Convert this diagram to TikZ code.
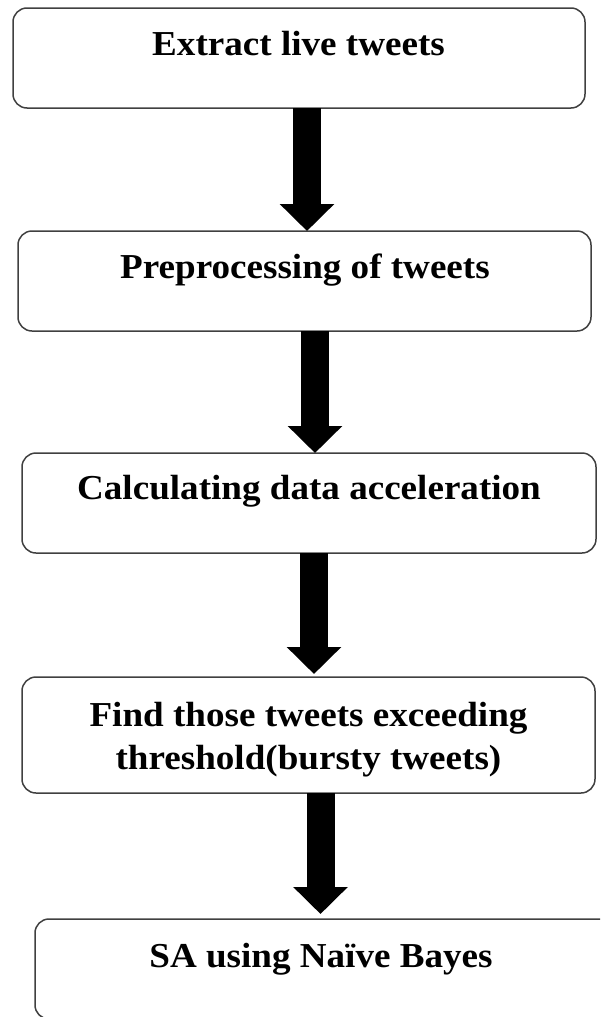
\documentclass[tikz,border=0pt]{standalone}
\usepackage{fontspec}
\setmainfont{Liberation Serif}
\usetikzlibrary{arrows.meta}
\begin{document}
\begin{tikzpicture}[x=1pt,y=-1pt,
 stepbox/.style={draw=black!75, line width=1.5pt, rounded corners=14pt, inner sep=0pt, outer sep=0pt},
 lbl/.style={anchor=base, inner sep=0pt, font=\fontsize{35}{43}\selectfont\bfseries},
 bigarrow/.style={line width=28pt, -{Triangle[width=53pt,length=27pt]}}]
\useasboundingbox (0,0) rectangle (600,1017);
\clip (0,0) rectangle (600,1017);
% boxes
\node[stepbox, minimum width=572pt, minimum height=100pt] (b1) at (299,58) {};
\node[stepbox, minimum width=573pt, minimum height=100pt] (b2) at (304.5,281) {};
\node[stepbox, minimum width=574pt, minimum height=100pt] (b3) at (309,503) {};
\node[stepbox, minimum width=573pt, minimum height=116pt] (b4) at (308.5,735) {};
\node[stepbox, minimum width=577pt, minimum height=100pt] (b5) at (323.5,969) {};
% labels
\node[lbl] (t1) at (298.5,55) {\scalebox{1.06}[1]{Extract live tweets}};
\node[lbl] (t2) at (305,278) {\scalebox{1.06}[1]{Preprocessing of tweets}};
\node[lbl] (t3) at (309,499) {\scalebox{1.06}[1]{Calculating data acceleration}};
\node[lbl] (t4a) at (308.5,726) {\scalebox{1.06}[1]{Find those tweets exceeding}};
\node[lbl] (t4b) at (308.5,769) {\scalebox{1.06}[1]{threshold(bursty tweets)}};
\node[lbl] (t5) at (321,967) {\scalebox{1.06}[1]{SA using Naïve Bayes}};
% arrows
\coordinate (a1) at (307,0);
\coordinate (a2) at (315,0);
\coordinate (a3) at (314,0);
\coordinate (a4) at (320.5,0);
\draw[bigarrow] (b1.south -| a1) -- (b2.north -| a1);
\draw[bigarrow] (b2.south -| a2) -- (b3.north -| a2);
\draw[bigarrow, shorten >=3pt] (b3.south -| a3) -- (b4.north -| a3);
\draw[bigarrow, shorten >=5pt] (b4.south -| a4) -- (b5.north -| a4);
\end{tikzpicture}
\end{document}
